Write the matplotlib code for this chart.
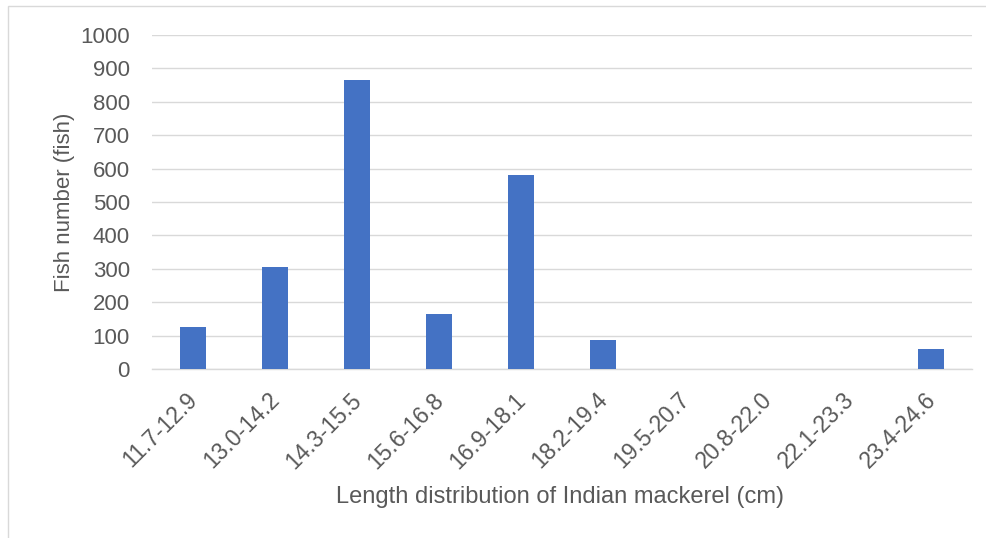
import matplotlib
matplotlib.use("Agg")
import matplotlib.pyplot as plt
from matplotlib.patches import Rectangle
from matplotlib.transforms import ScaledTranslation

categories = ["11.7-12.9", "13.0-14.2", "14.3-15.5", "15.6-16.8", "16.9-18.1",
              "18.2-19.4", "19.5-20.7", "20.8-22.0", "22.1-23.3", "23.4-24.6"]
values = [125, 305, 865, 165, 582, 86, 0, 0, 0, 60]
yticks = [0, 100, 200, 300, 400, 500, 600, 700, 800, 900, 1000]

plt.rcParams['font.family'] = ['Liberation Sans', 'DejaVu Sans']
W, H = 987, 538
fig = plt.figure(figsize=(W / 100, H / 100), dpi=100)
text_color = "#595959"

# outer chart border
fig.patches.append(Rectangle((8 / W, -0.1), 1.2, (H - 6) / H + 0.1, transform=fig.transFigure,
                             fill=False, edgecolor="#D9D9D9", linewidth=1))

left, right = 152 / W, 972 / W
bottom, top = 1 - 369 / H, 1 - 35 / H
ax = fig.add_axes([left, bottom, right - left, top - bottom])
x = range(len(categories))
ax.bar(x, values, width=0.31, color="#4472C4", zorder=3)
ax.set_xlim(-0.5, len(categories) - 0.5)
ax.set_ylim(0, 1000)
ax.set_yticks(yticks)
ax.set_yticklabels([str(v) for v in yticks], fontsize=16, color=text_color)
ax.set_xticks(list(x))
ax.set_xticklabels(categories, rotation=45, ha='right', rotation_mode='anchor',
                   fontsize=16.5, color=text_color)
ax.tick_params(axis='y', length=0, pad=16)
ax.tick_params(axis='x', length=0, pad=14)
offset = ScaledTranslation(-7 / 100, 0, fig.dpi_scale_trans)
for lab in ax.get_xticklabels():
    lab.set_transform(lab.get_transform() + offset)
ax.grid(axis='y', color="#D9D9D9", linewidth=1, zorder=0)
for s in ['top', 'right', 'left']:
    ax.spines[s].set_visible(False)
ax.spines['bottom'].set_color("#D9D9D9")
ax.spines['bottom'].set_linewidth(1)

fig.text(65 / W, 1 - 202 / H, "Fish number (fish)", rotation=90, ha='center', va='center',
         fontsize=16, color=text_color)
fig.text(560 / W, 1 - 497 / H, "Length distribution of Indian mackerel (cm)", ha='center',
         va='center', fontsize=17, color=text_color)

fig.savefig("out.png", dpi=100)
